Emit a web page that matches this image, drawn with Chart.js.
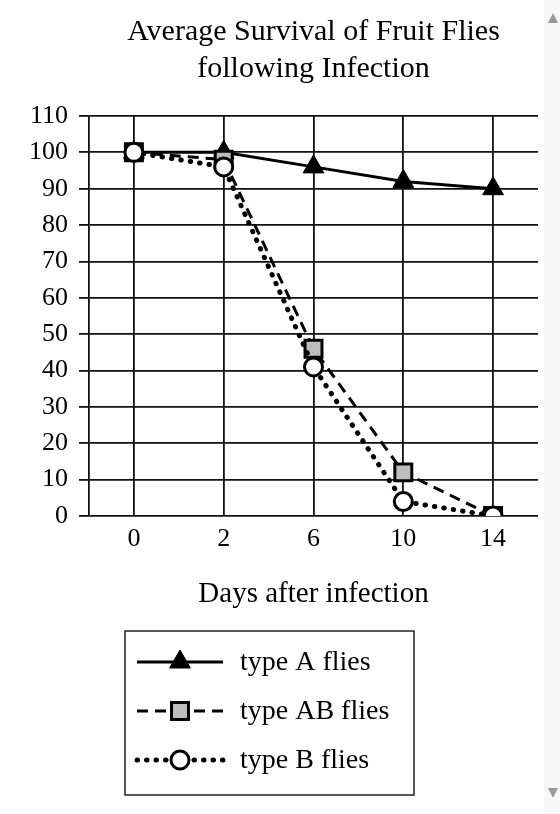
<!DOCTYPE html>
<html>
<head>
<meta charset="utf-8">
<script src="https://cdn.jsdelivr.net/npm/chart.js@4.4.1/dist/chart.umd.min.js"></script>
<style>
  body { margin: 0; background: #fff; overflow: hidden; }
  #wrap { position: relative; width: 560px; height: 814px; }
  #scroll { position: absolute; right: 0; top: 0; width: 16px; height: 814px; background: #f7f7f7; }
  #scroll .up, #scroll .down { position: absolute; left: 4px; width: 0; height: 0; border-left: 5px solid transparent; border-right: 5px solid transparent; }
  #scroll .up { top: 13px; border-bottom: 10px solid #9a9a9a; }
  #scroll .down { top: 788px; border-top: 10px solid #9a9a9a; }
</style>
</head>
<body>
<div id="wrap">
  <canvas id="flyChart" width="560" height="814"></canvas>
  <div id="scroll"><div class="up"></div><div class="down"></div></div>
</div>
<script>
var days = ['0', '2', '6', '10', '14'];
var typeA = [100, 100, 96, 92, 90];
var typeAB = [100, 98, 46, 12, 0];
var typeB = [100, 96, 41, 4, 0];
var seriesNames = ['type A flies', 'type AB flies', 'type B flies'];

var serif = "'Liberation Serif', 'DejaVu Serif', serif";

// legend drawn by hand: line sample with the marker in the middle
var boxLegend = {
  id: 'boxLegend',
  afterDraw: function(chart) {
    var ctx = chart.ctx;
    var x0 = 125, y0 = 631, w = 289, h = 164;
    ctx.save();
    ctx.strokeStyle = '#222';
    ctx.lineWidth = 1.5;
    ctx.strokeRect(x0, y0, w, h);
    [0, 1, 2].forEach(function(i, k) {
      var ds = chart.data.datasets[i];
      var y = y0 + 31 + k * 49;
      ctx.save();
      ctx.strokeStyle = ds.borderColor;
      ctx.lineWidth = ds.borderWidth;
      ctx.lineCap = ds.borderCapStyle || 'butt';
      ctx.setLineDash(ds.borderDash || []);
      ctx.beginPath();
      ctx.moveTo(137, y);
      ctx.lineTo(179, y);
      ctx.stroke();
      ctx.beginPath();
      ctx.moveTo(223, y);
      ctx.lineTo(181, y);
      ctx.stroke();
      ctx.restore();
      ctx.save();
      ctx.fillStyle = ds.pointBackgroundColor;
      ctx.strokeStyle = '#000';
      ctx.lineWidth = ds.pointBorderWidth;
      Chart.helpers.drawPoint(ctx, {
        pointStyle: ds.pointStyle,
        radius: ds.pointRadius,
        borderWidth: ds.pointBorderWidth
      }, 180, y);
      ctx.restore();
      ctx.fillStyle = '#000';
      ctx.font = '28px ' + serif;
      ctx.textBaseline = 'middle';
      ctx.fillText(seriesNames[i], 240, y + 1);
    });
    ctx.restore();
  }
};

var ctx = document.getElementById('flyChart').getContext('2d');
var chart = new Chart(ctx, {
  type: 'line',
  data: {
    labels: days,
    datasets: [{
      label: seriesNames[0],
      data: typeA,
      borderColor: '#000',
      borderWidth: 3,
      pointStyle: 'triangle',
      pointRadius: 12,
      pointBorderWidth: 1,
      pointBackgroundColor: '#000',
      pointBorderColor: '#000',
      order: 2
    }, {
      label: seriesNames[1],
      data: typeAB,
      borderColor: '#000',
      borderWidth: 3,
      borderDash: [11, 7],
      pointStyle: 'rect',
      pointRadius: 12,
      pointBorderWidth: 3,
      pointBackgroundColor: '#bdbdbd',
      pointBorderColor: '#000',
      order: 1
    }, {
      label: seriesNames[2],
      data: typeB,
      borderColor: '#000',
      borderWidth: 5,
      borderDash: [0.5, 9],
      borderCapStyle: 'round',
      pointStyle: 'circle',
      pointRadius: 9,
      pointBorderWidth: 3,
      pointBackgroundColor: '#fff',
      pointBorderColor: '#000',
      order: 0
    }]
  },
  options: {
    responsive: false,
    animation: false,
    devicePixelRatio: 1,
    layout: { padding: { left: 0, right: 22, top: 0, bottom: 198 } },
    plugins: {
      legend: { display: false },
      tooltip: { enabled: false },
      title: {
        display: true,
        fullSize: false,
        text: ['Average Survival of Fruit Flies', 'following Infection'],
        color: '#000',
        font: { family: serif, size: 30, weight: 'normal', lineHeight: 1.233 },
        padding: { top: 14, bottom: 28 }
      }
    },
    scales: {
      x: {
        type: 'category',
        offset: true,
        grid: { color: '#111', lineWidth: 1.8, drawTicks: false, offset: false },
        border: { display: false },
        ticks: { color: '#000', font: { family: serif, size: 26 }, padding: 8 },
        title: {
          display: true,
          text: 'Days after infection',
          color: '#000',
          font: { family: serif, size: 29 },
          padding: { top: 14, bottom: 4 }
        }
      },
      y: {
        min: 0,
        max: 110,
        afterFit: function(scale) { scale.width = 89; },
        grid: { color: '#111', lineWidth: 1.8, tickLength: 10 },
        border: { color: '#111', width: 1.8 },
        ticks: { stepSize: 10, color: '#000', font: { family: serif, size: 26 }, padding: 11 }
      }
    }
  },
  plugins: [boxLegend]
});
</script>
</body>
</html>
